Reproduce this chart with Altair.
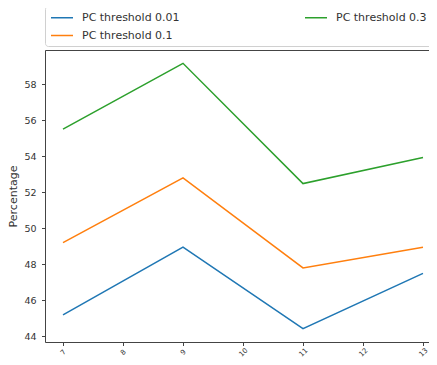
import altair as alt
import pandas as pd

x_vals = [7, 9, 11, 13]
series_names = ["PC threshold 0.01", "PC threshold 0.1", "PC threshold 0.3"]
pc_001 = [45.2, 48.95, 44.43, 47.5]
pc_01 = [49.2, 52.8, 47.8, 48.95]
pc_03 = [55.5, 59.15, 52.48, 53.93]
x_ticks = [7, 8, 9, 10, 11, 12, 13]
y_ticks = [44, 46, 48, 50, 52, 54, 56, 58]

rows = []
for name, vals in zip(series_names, [pc_001, pc_01, pc_03]):
    for xv, yv in zip(x_vals, vals):
        rows.append({"x": xv, "y": yv, "series": name})
df = pd.DataFrame(rows)

FONT = "DejaVu Sans"
AX = "#444444"

legend_order = ["PC threshold 0.01", "PC threshold 0.1", "PC threshold 0.3"]
legend_colors = ["#1f77b4", "#ff7f0e", "#2ca02c"]

xscale = alt.Scale(domain=[6.7, 13.1], nice=False, zero=False)
yscale = alt.Scale(domain=[43.69, 59.89], nice=False, zero=False)

lines = alt.Chart(df).mark_line(strokeWidth=1.5, clip=True).encode(
    x=alt.X("x:Q", scale=xscale,
            axis=alt.Axis(values=x_ticks, title=None, labelAngle=-45, labelAlign="center",
                          labelBaseline="middle", labelPadding=6.5, labelFontSize=7,
                          tickSize=3.5, grid=False, domainColor=AX, tickColor=AX,
                          labelColor="#333333", labelFont=FONT)),
    y=alt.Y("y:Q", scale=yscale,
            axis=alt.Axis(values=y_ticks, title="Percentage", titleFont=FONT, titleFontSize=11,
                          titleFontWeight="normal", titleColor="#333333", titlePadding=5.5,
                          labelFontSize=9.5, labelFont=FONT, labelColor="#333333",
                          labelPadding=5.5, tickSize=3.5, grid=False,
                          domainColor=AX, tickColor=AX)),
    color=alt.Color("series:N", sort=legend_order,
                    scale=alt.Scale(domain=legend_order, range=legend_colors),
                    legend=alt.Legend(title=None, orient="none", legendX=0, legendY=-44,
                                      columns=2, columnPadding=122, rowPadding=6,
                                      padding=5, symbolType="M-1,0H3", symbolSize=121,
                                      symbolStrokeWidth=1.5, labelOffset=19,
                                      labelFont=FONT, labelFontSize=11, labelColor="#333333",
                                      strokeColor="#d0d0d0", fillColor="white",
                                      cornerRadius=3)),
    order=alt.Order("x:Q"),
)

top_axis = alt.Chart(df).mark_point(opacity=0).encode(
    x=alt.X("x:Q", scale=xscale,
            axis=alt.Axis(orient="top", labels=False, ticks=False, title=None, grid=False,
                          domainColor=AX)),
    y=alt.value(0),
)

chart = alt.layer(lines, top_axis).resolve_axis(x="independent").properties(
    width=384, height=292,
    autosize=alt.AutoSizeParams(type="none"),
    padding={"left": 37, "top": 42, "right": 0, "bottom": 15},
).configure_view(stroke=None).configure(background="white")

chart.save("out.html", embed_options={"renderer": "svg", "actions": False})
